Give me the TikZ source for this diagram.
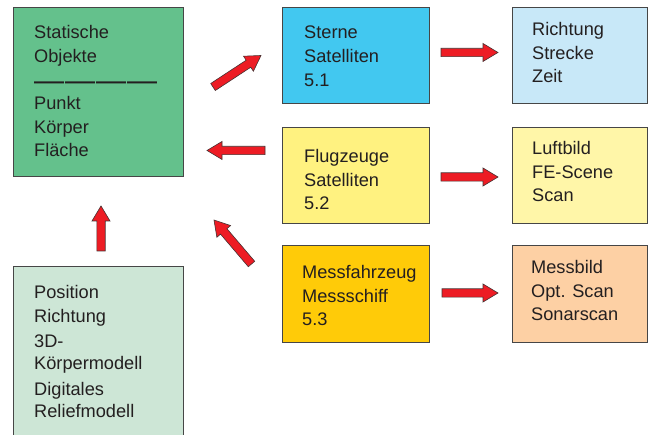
\documentclass[tikz,border=0pt]{standalone}
\usepackage{fontspec}
\setmainfont{Liberation Sans}
\usetikzlibrary{calc}
\definecolor{cA}{RGB}{100,193,140}
\definecolor{cH}{RGB}{205,230,214}
\definecolor{cB}{RGB}{66,200,240}
\definecolor{cC}{RGB}{200,232,248}
\definecolor{cD}{RGB}{255,242,128}
\definecolor{cE}{RGB}{255,246,168}
\definecolor{cF}{RGB}{255,203,8}
\definecolor{cG}{RGB}{253,208,164}
\definecolor{arrred}{RGB}{237,28,36}
\definecolor{arrline}{RGB}{70,50,50}
\definecolor{boxline}{RGB}{70,70,70}
\definecolor{textcol}{RGB}{35,31,32}
\tikzset{
  box/.style={draw=boxline, line width=0.8pt, anchor=north west, inner sep=0pt},
  txt/.style={anchor=north west, inner sep=0pt, align=left, text=textcol,
    font=\fontsize{18.2}{23.8}\selectfont},
  fat/.style={fill=arrred, draw=arrline, line width=0.6pt, line join=miter}
}
\newcommand\fatarrow[3]{%
  \coordinate (#3) at ($(#2)!15pt!(#1)$);
  \draw[fat] ($(#1)!4.2pt!-90:(#2)$) -- ($(#3)!4.2pt!-90:(#2)$) -- ($(#3)!9pt!-90:(#2)$) -- (#2)
    -- ($(#3)!9pt!90:(#2)$) -- ($(#3)!4.2pt!90:(#2)$) -- ($(#1)!4.2pt!90:(#2)$) -- cycle;
}
\begin{document}
\begin{tikzpicture}[x=1pt,y=-1pt]
\useasboundingbox (0,0) rectangle (648,435);
\clip (0,0) rectangle (648,435);
% boxes
\node[box, fill=cA, minimum width=170pt, minimum height=169pt] (A) at (13,7) {};
\node[box, fill=cH, minimum width=170pt, minimum height=180pt] (H) at (13,266) {};
\node[box, fill=cB, minimum width=147pt, minimum height=96pt] (B) at (282,7) {};
\node[box, fill=cC, minimum width=135pt, minimum height=96pt] (C) at (512,7) {};
\node[box, fill=cD, minimum width=147pt, minimum height=96pt] (D) at (282,127) {};
\node[box, fill=cE, minimum width=135pt, minimum height=96pt] (E) at (512,127) {};
\node[box, fill=cF, minimum width=147pt, minimum height=97pt] (F) at (282,245) {};
\node[box, fill=cG, minimum width=135pt, minimum height=97pt] (G) at (512,245) {};
% texts
\node[txt] (tA1) at (34,25) {Statische\\Objekte};
\node[txt, font=\fontsize{30}{30}\selectfont, anchor=west] (tAd) at (34,86) {—\kern1pt—\kern1pt—\kern1pt—};
\node[txt] (tA2) at (34,96) {Punkt\\Körper\\Fläche};
\node[txt] (tH) at (34,285) {Position\\Richtung\\[1.5pt]3D-\\[-1.5pt]Körpermodell\\[2pt]Digitales\\[-1.5pt]Reliefmodell};
\node[txt] (tB) at (304,26) {Sterne\\Satelliten\\5.1};
\node[txt] (tC) at (532,22) {Richtung\\Strecke\\Zeit};
\node[txt] (tD) at (304,149) {Flugzeuge\\Satelliten\\5.2};
\node[txt] (tE) at (532,141) {Luftbild\\FE-Scene\\Scan};
\node[txt] (tF) at (302,265) {Messfahrzeug\\Messschiff\\5.3};
\node[txt] (tG) at (531,260) {Messbild\\Opt. Scan\\Sonarscan};
% arrow end points
\coordinate (s1) at (441,52.5); \coordinate (e1) at (498,52.5);
\coordinate (s2) at (441,177);  \coordinate (e2) at (498,177);
\coordinate (s3) at (442,293);  \coordinate (e3) at (498,293);
\coordinate (s4) at (265,150.5); \coordinate (e4) at (207,150.5);
\coordinate (s5) at (213,87);   \coordinate (e5) at (261,55.5);
\coordinate (s6) at (251.5,264); \coordinate (e6) at (214,220);
\coordinate (s7) at (101,251);  \coordinate (e7) at (101,206);
\fatarrow{s1}{e1}{n1}
\fatarrow{s2}{e2}{n2}
\fatarrow{s3}{e3}{n3}
\fatarrow{s4}{e4}{n4}
\fatarrow{s5}{e5}{n5}
\fatarrow{s6}{e6}{n6}
\fatarrow{s7}{e7}{n7}
\end{tikzpicture}
\end{document}
